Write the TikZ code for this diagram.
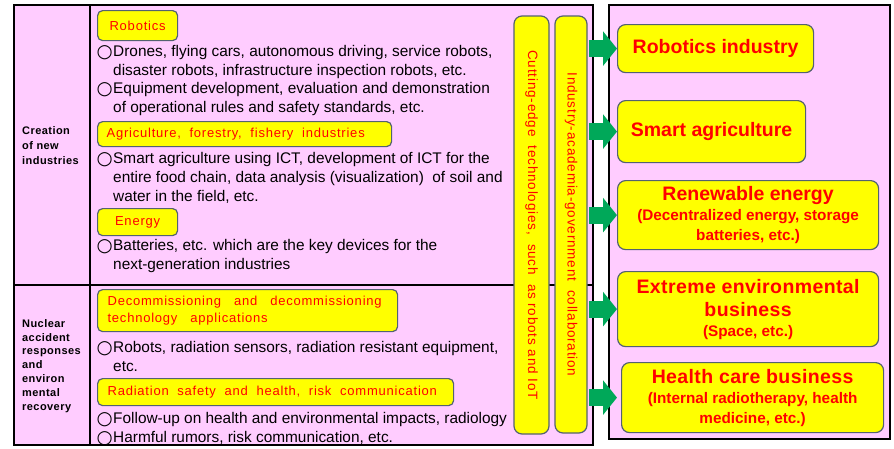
\documentclass[tikz,border=0pt]{standalone}
\usepackage{fontspec}
\setmainfont{Liberation Sans}
\newfontfamily\symfont{DejaVu Sans}
\newfontfamily\lsfont[LetterSpace=6]{Liberation Sans}
\newfontfamily\lsbfont[LetterSpace=4]{Liberation Sans Bold}
\newfontfamily\lsbsfont[LetterSpace=2]{Liberation Sans Bold}
\usetikzlibrary{arrows.meta}
\definecolor{pinkbg}{RGB}{255,204,255}
\definecolor{ybox}{RGB}{255,255,0}
\definecolor{bordergray}{RGB}{84,98,112}
\definecolor{redtxt}{RGB}{255,0,0}
\definecolor{garrow}{RGB}{0,168,89}
\newcommand\bul{\makebox[15pt][l]{\hspace*{-1.5pt}\raisebox{-1pt}[0pt][0pt]{\symfont\fontsize{18.5}{18.5}\selectfont ○}}}
\newcommand\ind{\hspace*{15pt}}
\tikzset{
  panel/.style={draw=black, line width=1.3pt, fill=pinkbg},
  divider/.style={draw=black, line width=1.3pt},
  tagbox/.style={draw=bordergray, line width=1.2pt, fill=ybox, rounded corners=5pt,
    anchor=north west, inner ysep=0pt, text=redtxt,
    font=\lsfont\fontsize{13}{17}\selectfont},
  vbox/.style={draw=bordergray, line width=1.2pt, fill=ybox, rounded corners=8pt,
    rotate=-90, inner sep=0pt, text=redtxt, minimum height=35pt,
    font=\lsfont\fontsize{13.5}{16}\selectfont},
  rbox/.style={draw=bordergray, line width=1.2pt, fill=ybox, rounded corners=8pt,
    anchor=north west, inner sep=0pt, text=redtxt, align=center,
    font=\bfseries\fontsize{15.3}{20}\selectfont},
  bodytext/.style={anchor=base west, inner sep=0pt, align=left,
    font=\fontsize{15.4}{19}\selectfont},
  sidelabel/.style={anchor=base west, inner sep=0pt, align=left},
  bigarrow/.style={draw=garrow, line width=17pt, -{Triangle[length=14pt,width=34pt]}}
}
\begin{document}
\begin{tikzpicture}[x=1pt,y=-1pt]
\path[use as bounding box] (0,0) rectangle (894,448);
% panels
\path[panel] (14,5) rectangle (593,445);
\draw[divider] (90,5) -- (90,445);
\draw[divider] (14,285) -- (593,285);
\path[panel] (609,5) rectangle (890,439);

% side labels (anchor = baseline of last line)
\node[sidelabel, font=\lsbfont\fontsize{11}{15}\selectfont] (lab1) at (22,164) {Creation\\of new\\industries};
\node[sidelabel, font=\lsbfont\fontsize{11}{13.8}\selectfont] (lab2) at (22,410) {Nuclear\\accident\\responses\\and\\environ\\mental\\recovery};

% tag boxes and items, top section
\node[tagbox, minimum width=80pt, minimum height=30pt, inner xsep=0pt, align=center] (tRob) at (97,10) {Robotics};
\node[bodytext] (b1) at (98,75) {\bul Drones, flying cars, autonomous driving, service robots,\\\ind disaster robots, infrastructure inspection robots, etc.};
\node[bodytext] (b2) at (98,112) {\bul Equipment development, evaluation and demonstration\\\ind of operational rules and safety standards, etc.};
\node[tagbox, minimum width=294pt, minimum height=25pt, inner xsep=9pt, text width=276pt, align=left] (tAgr) at (97,121) {Agriculture,\ \ forestry,\ \ fishery\ \ industries};
\node[bodytext] (b3) at (98,201) {\bul Smart agriculture using ICT, development of ICT for the\\\ind entire food chain, data analysis (visualization)\ \ of soil and\\\ind water in the field, etc.};
\node[tagbox, minimum width=80pt, minimum height=27pt, inner xsep=0pt, align=center] (tEne) at (97,208) {Energy};
\node[bodytext] (b4) at (98,269) {\bul Batteries, etc. which are the key devices for the\\\ind next-generation industries};

% tag boxes and items, bottom section
\node[tagbox, minimum width=300pt, minimum height=42pt, inner xsep=10pt, text width=280pt, align=left] (tDec) at (97,289) {Decommissioning\ \ \ and\ \ \ decommissioning\\technology\ \ \ applications};
\node[bodytext] (b5) at (98,371) {\bul Robots, radiation sensors, radiation resistant equipment,\\\ind etc.};
\node[tagbox, minimum width=356pt, minimum height=27pt, inner xsep=10pt, text width=336pt, align=left] (tRad) at (97,378) {Radiation\ \ safety\ \ and\ \ health,\ \ risk\ \ communication};
\node[bodytext] (b6) at (98,442) {\bul Follow-up on health and environmental impacts, radiology\\\bul Harmful rumors, risk communication, etc.};

% vertical boxes
\node[vbox, minimum width=418pt] (colA) at (531.5,225) {Cutting-edge\ \ technologies,\ \ such\ \ as\ robots\ and\ IoT};
\node[vbox, minimum width=417pt, minimum height=32pt] (colB) at (571,224.5) {Industry-academia-government\ \ collaboration};

% right boxes
\node[rbox, minimum width=196pt, minimum height=48pt] (r1) at (617,24) {{\fontsize{19.5}{20}\selectfont Robotics industry}};
\node[rbox, minimum width=188pt, minimum height=62pt] (r2) at (617,100) {{\fontsize{19.5}{20}\selectfont Smart agriculture}};
\node[rbox, minimum width=261pt, minimum height=69pt] (r3) at (617,180) {{\fontsize{19.5}{20}\selectfont Renewable energy}\\(Decentralized energy, storage\\batteries, etc.)};
\node[rbox, minimum width=261pt, minimum height=75pt] (r4) at (617,271) {{\lsbsfont\fontsize{19.5}{20}\selectfont Extreme environmental}\\[3pt]{\lsbsfont\fontsize{19.5}{20}\selectfont business}\\(Space, etc.)};
\node[rbox, minimum width=262pt, minimum height=70pt] (r5) at (621,362) {{\lsbsfont\fontsize{19.5}{20}\selectfont Health care business}\\(Internal radiotherapy, health\\medicine, etc.)};

% arrows
\coordinate (arrstart) at (589,0);
\draw[bigarrow] (arrstart |- r1.west) -- (r1.west);
\draw[bigarrow] (arrstart |- r2.west) -- (r2.west);
\draw[bigarrow] (arrstart |- r3.west) -- (r3.west);
\draw[bigarrow] (arrstart |- r4.west) -- (r4.west);
\draw[bigarrow] (arrstart |- r5.west) -- ([xshift=-4pt]r5.west);
\end{tikzpicture}
\end{document}
